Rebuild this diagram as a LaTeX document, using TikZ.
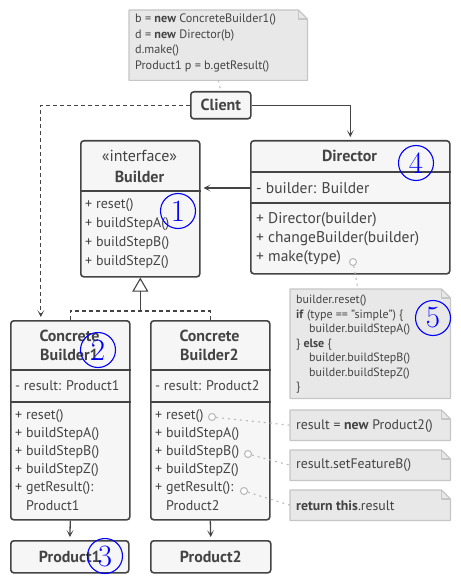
\documentclass[tikz,border=0pt]{standalone}
\usepackage{fontspec}
\setmainfont{PT Sans}
\newfontfamily\numfont{Latin Modern Roman}
\usetikzlibrary{arrows.meta,backgrounds}

\definecolor{ink}{HTML}{444444}
\definecolor{boxfill}{HTML}{F6F6F6}
\definecolor{notefill}{HTML}{E8E8E8}
\definecolor{noteline}{HTML}{C6C6C6}
\definecolor{dotc}{HTML}{BBBBBB}

% folded-corner note drawn behind a named node
\newcommand\notebox[1]{%
  \begin{pgfonlayer}{background}
    \filldraw[fill=notefill,draw=noteline,line width=1.2pt,line join=round]
      (#1.north west) -- ([xshift=-9pt]#1.north east) -- ([yshift=-9pt]#1.north east)
      -- (#1.south east) -- (#1.south west) -- cycle;
    \draw[noteline,line width=1.2pt,line join=round]
      ([xshift=-9pt]#1.north east) |- ([yshift=-9pt]#1.north east);
  \end{pgfonlayer}}

\begin{document}
\begin{tikzpicture}[x=1pt,y=-1pt]
\tikzset{
  box/.style={draw=ink,fill=boxfill,line width=1.6pt,rounded corners=3pt,anchor=north west,inner sep=0pt,text=ink,font=\fontsize{16}{18}\selectfont\bfseries},
  sep/.style={draw=ink,line width=1.6pt},
  txt/.style={anchor=west,inner sep=0pt,text=ink,font=\fontsize{14}{17}\selectfont},
  ttl/.style={inner sep=0pt,text=ink,font=\fontsize{16}{18}\selectfont\bfseries},
  note/.style={anchor=north west,inner sep=0pt},
  ntxt/.style={anchor=north west,inner sep=0pt,align=left,text=ink,font=\fontsize{12.2}{15.5}\selectfont},
  link/.style={draw=ink,line width=1.3pt,-{Stealth[length=7pt,width=7pt,inset=4pt]},shorten >=3pt},
  dlink/.style={link,dash pattern=on 4pt off 3pt},
  lead/.style={draw=dotc,line width=1.1pt,dash pattern=on 2pt off 4pt},
  pin/.style={circle,draw=dotc,fill=white,line width=1.1pt,minimum size=7pt,inner sep=0pt},
  num/.style={circle,draw=blue,text=blue,line width=1.1pt,minimum size=35pt,inner sep=0pt,font=\numfont\fontsize{31}{31}\selectfont},
}
\begin{pgfonlayer}{background}
  \fill[white] (0,0) rectangle (460,580);
\end{pgfonlayer}
\useasboundingbox (0,0) rectangle (460,580);

% client and its note
\node[note,minimum width=178,minimum height=70] (cn) at (129,10) {};
\notebox{cn}
\node[ntxt] (cnt) at (135,14) {b = \textbf{new} ConcreteBuilder1()\\d = \textbf{new} Director(b)\\d.make()\\Product1 p = b.getResult()};
\node[box,minimum width=60,minimum height=27] (cl) at (190,91) {Client};
\draw[lead] (cn.south) -- (cl.north);

% builder interface
\node[box,minimum width=119,minimum height=136] (bld) at (80,140) {};
\draw[sep] (bld.west |- 0,191) -- (bld.east |- 0,191);
\node[ttl] (bi) at (139.5,156) {\mdseries «interface»};
\node[ttl] (bt) at (139.5,177) {Builder};
\foreach \m [count=\i] in {reset(),buildStepA(),buildStepB(),buildStepZ()}
  \node[txt] (bm\i) at (85,{186+19*\i}) {+ \m};

% director
\node[box,minimum width=199,minimum height=133] (dir) at (250,140) {};
\draw[sep] (dir.west |- 0,172) -- (dir.east |- 0,172);
\draw[sep] (dir.west |- 0,203) -- (dir.east |- 0,203);
\node[ttl] (dt) at (349.5,156) {Director};
\tikzset{dtxt/.style={txt,font=\fontsize{15.5}{18}\selectfont}}
\node[dtxt] (df) at (256,188) {- builder: Builder};
\node[dtxt] (dm1) at (256,220) {+ Director(builder)};
\node[dtxt] (dm2) at (256,239) {+ changeBuilder(builder)};
\node[dtxt] (dm3) at (256,258) {+ make(type)};
\node[pin] (dp) at (353,262) {};

% concrete builders
\node[box,minimum width=119,minimum height=199] (cb1) at (10,320) {};
\draw[sep] (cb1.west |- 0,370) -- (cb1.east |- 0,370);
\draw[sep] (cb1.west |- 0,402) -- (cb1.east |- 0,402);
\node[ttl] (c1a) at (69.5,336) {Concrete};
\node[ttl] (c1b) at (69.5,355) {Builder1};
\node[txt] (c1f) at (15,386) {- result: Product1};

\node[box,minimum width=119,minimum height=199] (cb2) at (150,320) {};
\draw[sep] (cb2.west |- 0,370) -- (cb2.east |- 0,370);
\draw[sep] (cb2.west |- 0,402) -- (cb2.east |- 0,402);
\node[ttl] (c2a) at (209.5,336) {Concrete};
\node[ttl] (c2b) at (209.5,355) {Builder2};
\node[txt] (c2f) at (155,386) {- result: Product2};

\foreach \m [count=\i] in {reset(),buildStepA(),buildStepB(),buildStepZ(),getResult():} {
  \node[txt] (c1m\i) at (15,{398+18*\i}) {+ \m};
  \node[txt] (c2m\i) at (155,{398+18*\i}) {+ \m};
}
\node[txt] (c1r) at (26,506) {Product1};
\node[txt] (c2r) at (166,506) {Product2};

% products
\node[box,minimum width=118,minimum height=32] (p1) at (10,540) {Product1};
\node[box,minimum width=120,minimum height=32] (p2) at (150,540) {Product2};

% notes
\node[note,minimum width=160,minimum height=109] (n5) at (290,289) {};
\notebox{n5}
\node[ntxt,font=\fontsize{12}{14.5}\selectfont] (n5t) at (296,295) {builder.reset()\\\textbf{if} (type == "simple") \{\\\hspace*{13pt}builder.buildStepA()\\\} \textbf{else} \{\\\hspace*{13pt}builder.buildStepB()\\\hspace*{13pt}builder.buildStepZ()\\\}};
\tikzset{nline/.style={txt,font=\fontsize{13.8}{16}\selectfont}}
\node[note,minimum width=160,minimum height=30] (na) at (290,410) {};
\notebox{na}
\node[nline] (nat) at (296,426) {result = \textbf{new} Product2()};
\node[note,minimum width=160,minimum height=30] (nb) at (290,450) {};
\notebox{nb}
\node[nline] (nbt) at (296,465) {result.setFeatureB()};
\node[note,minimum width=160,minimum height=30] (nc) at (290,490) {};
\notebox{nc}
\node[nline] (nct) at (296,506) {\textbf{return this}.result};

\node[pin] (pa) at (212,417) {};
\node[pin] (pb) at (248,454) {};
\node[pin] (pc) at (244,491) {};
\draw[lead] (pa) -- (na.west);
\draw[lead] (pb) -- (nb.west);
\draw[lead] (pc) -- (nc.west);
\draw[lead] (dp) -- ([xshift=68pt]n5.north west);

% relations
\draw[link] (cl.east) -| (dir.north);
\draw[dlink] (cl.west) -| ([xshift=-29.5pt]cb1.north);
\draw[link] (df.west -| dir.west) -- (df.west -| bld.east);
\coordinate (split) at (bld.south |- 0,311);
\draw[draw=ink,line width=1.3pt,dash pattern=on 4pt off 3pt] (cb1.north) |- (split) -| (cb2.north);
\draw[draw=ink,line width=1.3pt,-{Triangle[open,length=14pt,width=16pt,line width=1.1pt]}] (split) -- (bld.south);
\draw[link] (cb1.south) -- (p1.north);
\draw[link] (cb2.south) -- (p2.north);

% numbered marks
\node[num] (k1) at (178,211) {1};
\node[num] (k2) at (98,350) {2};
\node[num] (k3) at (105,556) {3};
\node[num] (k4) at (416,163) {4};
\node[num] (k5) at (433,318) {5};
\end{tikzpicture}
\end{document}
